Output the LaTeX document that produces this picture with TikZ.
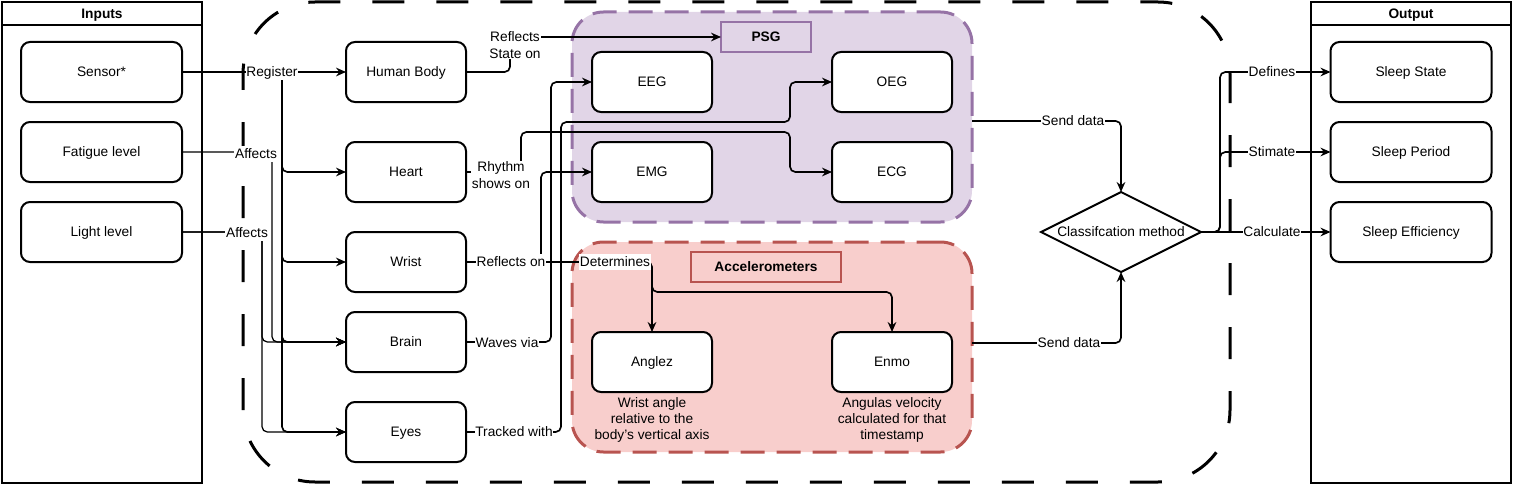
\documentclass[tikz,border=0pt]{standalone}
\usepackage{fontspec}
\setmainfont{Liberation Sans}
\usetikzlibrary{arrows.meta,shapes.geometric}
\definecolor{psgfill}{HTML}{E1D5E7}
\definecolor{psgline}{HTML}{9673A6}
\definecolor{accfill}{HTML}{F8CECC}
\definecolor{accline}{HTML}{B85450}
\begin{document}
\begin{tikzpicture}[x=0.75pt,y=-0.75pt,
  every node/.style={font=\fontsize{10.3pt}{12.5pt}\selectfont, outer sep=0pt},
  sl/.style={text height=9.6pt, text depth=2.2pt},
  box/.style={draw, line width=1.5pt, rounded corners=6.75pt, fill=white,
    minimum width=90pt, minimum height=45pt, inner sep=0pt, sl},
  wbox/.style={box, minimum width=120.75pt},
  grp/.style={draw, line width=2.25pt, rounded corners=23.6pt, dash pattern=on 18pt off 9pt,
    minimum width=300pt, minimum height=157.5pt, inner sep=0pt},
  glabel/.style={draw, line width=1pt, inner sep=0pt, minimum height=22.5pt, sl, font=\fontsize{10.3pt}{12.5pt}\selectfont\bfseries},
  e/.style={line width=1.25pt, rounded corners=4pt, -{Stealth[length=7.5pt,width=6.5pt,inset=2.5pt]}},
  et/.style={e, line width=0.95pt},
  lbl/.style={fill=white, inner sep=0.6pt, align=center},
  slbl/.style={fill=white, inner xsep=0.6pt, inner ysep=0pt, sl},
  captxt/.style={align=center, inner sep=0pt, font=\fontsize{10.3pt}{12pt}\selectfont},
  cont/.style={draw, line width=2pt, inner sep=0pt, minimum width=150pt, minimum height=360.75pt}
]
\useasboundingbox (0,0) rectangle (1513,485);

% containers
\node[cont] (inputs) at (102,242.5) {};
\draw[line width=2pt] (2,25) -- (202,25);
\node[sl, font=\fontsize{10.3pt}{12.5pt}\selectfont\bfseries] (inh) at (102,14) {Inputs};
\node[cont] (output) at (1411,242.5) {};
\draw[line width=2pt] (1311,25) -- (1511,25);
\node[sl, font=\fontsize{10.3pt}{12.5pt}\selectfont\bfseries] (outh) at (1411,14) {Output};

% groups
\node[grp, draw=psgline, fill=psgfill] (psg) at (772,117) {};
\node[grp, draw=accline, fill=accfill] (acc) at (772,347) {};
\node[glabel, draw=psgline, fill=psgfill, minimum width=67.5pt] (psgl) at (766,37) {PSG};
\node[glabel, draw=accline, fill=accfill, minimum width=112.5pt] (accl) at (766,267) {Accelerometers};

% big dashed frame
\draw[line width=2.25pt, dash pattern=on 24pt off 24pt, dash phase=12pt, rounded corners=54pt] (243,2) rectangle (1230,482);

% nodes
\node[wbox] (sensor) at (101.5,72) {Sensor*};
\node[wbox] (fatigue) at (101.5,152) {Fatigue level};
\node[wbox] (light) at (101.5,232) {Light level};

\node[box] (hb) at (406,72) {Human Body};
\node[box] (heart) at (406,172) {Heart};
\node[box] (wrist) at (406,262) {Wrist};
\node[box] (brain) at (406,342) {Brain};
\node[box] (eyes) at (406,432) {Eyes};

\node[box] (eeg) at (652,82) {EEG};
\node[box] (oeg) at (892,82) {OEG};
\node[box] (emg) at (652,172) {EMG};
\node[box] (ecg) at (892,172) {ECG};

\node[box] (anglez) at (652,362) {Anglez};
\node[box] (enmo) at (892,362) {Enmo};

\node[diamond, draw, line width=1.5pt, fill=white, minimum width=120pt, minimum height=60pt, inner sep=0pt] (dia) at (1121,232) {};
\node[sl] (diat) at (dia.center) {Classifcation method};

\node[wbox] (ss) at (1411,72) {Sleep State};
\node[wbox] (sp) at (1411,152) {Sleep Period};
\node[wbox] (se) at (1411,232) {Sleep Efficiency};

% captions
\node[captxt] (capa) at (652,420) {Wrist angle\\relative to the\\body's vertical axis};
\node[captxt] (cape) at (892,420) {Angulas velocity\\calculated for that\\timestamp};

% edges left
\draw[line width=2.2pt] (sensor.east) -- (247,72);
\draw[e] (sensor.east) -- (hb.west);
\draw[e] (sensor.east) -- (282,72) |- (heart.west);
\draw[e] (sensor.east) -- (282,72) |- (wrist.west);
\draw[e] (sensor.east) -- (282,72) |- (brain.west);
\draw[e] (sensor.east) -- (282,72) |- (eyes.west);
\draw[et] (fatigue.east) -- (272,152) |- (brain.west);
\draw[et] (light.east) -- (262,232) |- (brain.west);
\draw[et] (light.east) -- (262,232) |- (eyes.west);

% edges middle
\draw[e] (hb.east) -- (510,72) -- (510,37) -- (psgl.west);
\draw[e] (heart.east) -- (521,172) |- (790,132) |- (ecg.west);
\draw[e] (wrist.east) -- (541,262) |- (emg.west);
\draw[e] (wrist.east) -- (anglez.north |- wrist.east) -- (anglez.north);
\draw[e] (wrist.east) -- (anglez.north |- wrist.east) -- (652,292) -| (enmo.north);
\draw[e] (brain.east) -- (551,342) |- (eeg.west);
\draw[e] (eyes.east) -- (561,432) |- (790,122) |- (oeg.west);

% edges right
\draw[e] ([yshift=-3pt]psg.east) -| (dia.north);
\draw[e] ([yshift=3pt]acc.east) -| (dia.south);
\draw[e] (dia.east) -- (1220,232) |- (ss.west);
\draw[e] (dia.east) -- (1220,232) |- (sp.west);
\draw[e] (dia.east) -- (se.west);

% labels
\node[slbl] (reg) at (272,72) {Register};
\node[slbl] (aff1) at (256,154) {Affects};
\node[slbl] (aff2) at (247,233) {Affects};
\node[lbl, font=\fontsize{10.3pt}{12.8pt}\selectfont] (rso) at (515,45) {Reflects\\State on};
\node[lbl] (rhy) at (501,175) {Rhythm\\shows on};
\node[slbl] (refl) at (511,262) {Reflects on};
\node[slbl] (det) at (615,262) {Determines};
\node[slbl] (wav) at (507,343) {Waves via};
\node[slbl] (trk) at (514,432) {Tracked with};
\node[slbl] (sd1) at (1073,121) {Send data};
\node[slbl] (sd2) at (1069,343) {Send data};
\node[slbl] (def) at (1272,72) {Defines};
\node[slbl] (sti) at (1272,152) {Stimate};
\node[slbl] (cal) at (1272,232) {Calculate};
\end{tikzpicture}
\end{document}
